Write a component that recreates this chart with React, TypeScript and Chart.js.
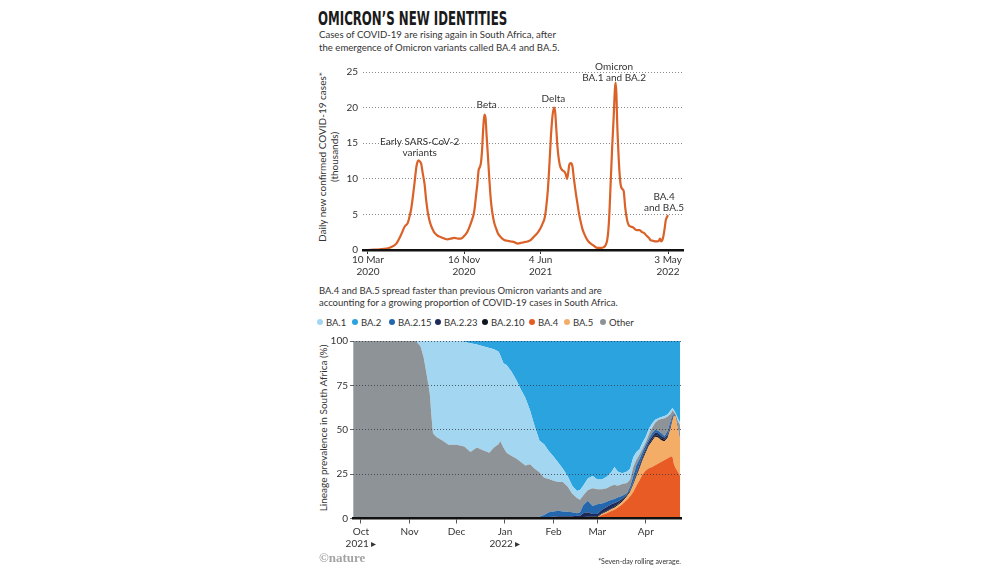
import React, { useEffect, useRef } from "react";
import { Chart, registerables } from "chart.js";

Chart.register(...registerables);

const FONT = "Lato, 'Noto Sans', sans-serif";
const TEXT = "#333333";

// ---------- Chart 1: daily new confirmed COVID-19 cases (thousands), x = days since 10 Mar 2020
const caseDays = [-9, 0, 20, 43, 60, 74, 87, 96, 104, 109, 113, 118, 122, 126, 129, 132, 136, 139, 143, 148, 152, 156, 160, 165, 170, 174, 182, 191, 200, 208, 216, 226, 235, 243, 250, 255, 260, 265, 269, 274, 278, 282, 286, 289, 292, 295, 298, 301, 304, 307, 310, 313, 317, 321, 325, 330, 335, 339, 347, 356, 365, 373, 382, 391, 400, 408, 417, 425, 434, 443, 451, 457, 462, 466, 470, 474, 478, 482, 486, 489, 492, 495, 499, 503, 508, 513, 517, 520, 523, 526, 530, 534, 538, 543, 547, 551, 556, 560, 564, 570, 576, 582, 590, 599, 608, 616, 621, 625, 628, 631, 634, 638, 642, 645, 647, 649, 651, 654, 657, 660, 664, 668, 672, 677, 681, 686, 692, 698, 703, 710, 716, 721, 728, 734, 738, 745, 750, 755, 760, 763, 766, 769, 772, 775, 778, 781, 784];
const caseValues = [0, 0, 0.05, 0.15, 0.4, 0.9, 2.2, 3.3, 3.8, 4.8, 5.8, 7.8, 9.6, 11.5, 12.3, 12.6, 12.4, 12.1, 10.8, 9.2, 7, 5.4, 4.3, 3.4, 2.8, 2.4, 2, 1.8, 1.6, 1.5, 1.6, 1.7, 1.6, 1.6, 1.9, 2.2, 2.6, 3.2, 3.8, 4.6, 5.6, 7.5, 9.4, 11.2, 11.6, 12.2, 14, 17, 19, 18.6, 16, 13.5, 10, 7, 5.2, 3.8, 3, 2.4, 1.8, 1.4, 1.3, 1.2, 1.1, 0.9, 1.0, 1.1, 1.2, 1.4, 1.9, 2.4, 3.1, 3.8, 4.6, 6.2, 8.5, 12, 16, 18.8, 20, 19.4, 17, 14.5, 12.6, 11.6, 11.2, 11, 10.6, 10, 10.8, 12, 12.2, 11.8, 10, 8, 6.6, 5.2, 3.9, 3, 2.4, 1.7, 1.2, 0.9, 0.6, 0.3, 0.3, 0.4, 0.7, 1.4, 2.8, 5.5, 9.4, 14.5, 18.8, 22.5, 23.5, 22, 18, 14, 11, 9.2, 8.6, 8.3, 6, 4.2, 3.5, 3.3, 3.2, 2.9, 2.8, 2.8, 2.5, 2.4, 2, 1.7, 1.4, 1.3, 1.2, 1.2, 1.3, 1.6, 1.2, 1.4, 2, 3, 4.2, 4.6, 4.9];
const caseTickDays = [0, 251, 451, 784];
const caseTickLabels = [["10 Mar", "2020"], ["16 Nov", "2020"], ["4 Jun", "2021"], ["3 May", "2022"]];
const caseYTicks = [0, 5, 10, 15, 20, 25];
const caseNoteLines = [["Early SARS-CoV-2", "variants"], ["Beta"], ["Delta"], ["Omicron", "BA.1 and BA.2"], ["BA.4", "and BA.5"]];
const caseNoteDays = [135, 310, 484.5, 643, 773.5];
const caseNoteValues = [15.2, 20.4, 21.3, 25.8, 7.45];

// ---------- Chart 2: lineage prevalence (%), x = days since 1 Oct 2021
const lineageDays = [-5, 0, 5, 10, 15, 20, 25, 30, 35, 38, 40, 42, 44, 45, 46, 48, 52, 56, 61, 64, 66, 70, 74, 78, 82, 85, 88, 89, 91, 93, 96, 99, 102, 105, 108, 111, 114, 117, 120, 123, 126, 129, 132, 135, 138, 140, 142, 145, 148, 151, 154, 157, 160, 162, 164, 167, 170, 172, 174, 176, 178, 180, 182, 184, 186, 188, 190, 192, 194, 196, 198, 199, 200, 201, 202, 203, 204];
const ba4 = [0, 0, 0, 0, 0, 0, 0, 0, 0, 0, 0, 0, 0, 0, 0, 0, 0, 0, 0, 0, 0, 0, 0, 0, 0, 0, 0, 0, 0, 0, 0, 0, 0, 0, 0, 0, 0, 0, 0, 0, 0, 0, 0, 0, 0, 0, 0, 0, 0,
  0.5, 2, 3, 4.2, 5, 6, 8, 10.5, 12.5, 15, 18.5, 21.5, 25, 27, 28.3, 29, 30, 31, 32, 33, 34, 35, 35, 30.5, 28.5, 27, 25.5, 24];
const ba5 = [0, 0, 0, 0, 0, 0, 0, 0, 0, 0, 0, 0, 0, 0, 0, 0, 0, 0, 0, 0, 0, 0, 0, 0, 0, 0, 0, 0, 0, 0, 0, 0, 0, 0, 0, 0, 0, 0, 0, 0, 0, 0, 0, 0, 0, 0, 0, 0, 0,
  0.2, 0.5, 0.8, 1, 1, 1.3, 1.5, 2, 2.5, 4, 5, 6.5, 8, 10, 12.7, 14.5, 16, 14.5, 12, 10.5, 11.5, 16, 20, 27.5, 29, 26, 23.5, 19.5];
const ba210 = [0, 0, 0, 0, 0, 0, 0, 0, 0, 0, 0, 0, 0, 0, 0, 0, 0, 0, 0, 0, 0, 0, 0, 0, 0, 0, 0, 0, 0, 0, 0, 0, 0, 0, 0,
  0, 0, 0.2, 0.3, 0.3, 0.3, 0.3, 0.3, 0.4, 0.5, 0.5, 0.8, 1, 1, 0.6, 0.5, 0.5, 0.5, 0.8, 0.7, 0.8, 0.7, 0.7, 0.8, 0.8, 1, 1, 1, 1, 1, 1, 1, 1, 1, 1, 1, 1, 0.3, 0.3, 0.5, 0.5, 0.5];
const ba223 = [0, 0, 0, 0, 0, 0, 0, 0, 0, 0, 0, 0, 0, 0, 0, 0, 0, 0, 0, 0, 0, 0, 0, 0, 0, 0, 0, 0, 0, 0, 0, 0, 0, 0, 0,
  0, 0, 0.3, 0.5, 0.7, 0.9, 0.9, 0.9, 0.9, 1, 1, 2.2, 2.5, 1.5, 1.2, 2, 2.2, 2.3, 2, 1.5, 1, 0.6, 0.6, 0.7, 1.2, 1.5, 1.5, 1.5, 1.5, 1.5, 1.5, 1.5, 1.5, 1, 1, 1, 1, 0.3, 0.2, 0.5, 0.5, 0.5];
const ba215 = [0, 0, 0, 0, 0, 0, 0, 0, 0, 0, 0, 0, 0, 0, 0, 0, 0, 0, 0, 0, 0, 0, 0, 0, 0, 0, 0, 0,
  0, 0, 0, 0, 0, 0, 0.3, 0.6, 1, 1.5, 2.7, 3, 3.1, 2.8, 2.6, 2.2, 1.5, 2, 4.5, 6.5, 4.5, 5.5, 3.5, 3, 2.5, 2.2, 2.3, 1.5, 0.5, 1.7, 3.5, 4.5, 3, 2.2, 2, 1.5, 2, 1.5, 1.5, 1.5, 1, 2, 2.5, 1, 0.4, 0.3, 0.5, 1, 1.5];
const other = [100, 100, 100, 100, 100, 100, 100, 100, 100, 97, 91, 81, 70, 58, 48, 46, 44, 41.5, 41.5, 41, 40.5, 37.5, 40, 38.5, 37, 40, 42, 43.7, 40, 37, 35.3, 34, 32, 29.8, 30.2,
  27.4, 25, 21, 18.7, 17.2, 16.2, 16.5, 14.2, 10.5, 8.5, 7, 5.5, 6, 10, 8.5, 8, 7.5, 8, 8, 6.7, 6.7, 5.7, 4, 5, 3, 2.5, 1.8, 1.5, 2.5, 3, 4, 6, 8, 10, 8, 3.5, 3, 1, 0.5, 1.5, 3, 6.5];
const ba1 = [0, 0, 0, 0, 0, 0, 0, 0, 0, 3, 9, 19, 30, 42, 52, 54, 56, 58.5, 58.5, 59, 59, 61.2, 58, 58.5, 59, 55.3, 52, 48.3, 47.5, 49.5, 47.7, 44.5, 41, 38.2, 30.5,
  24, 18, 18.8, 15.8, 13.8, 11, 7.5, 6, 4.5, 4, 5.5, 5.5, 6.5, 7, 5.5, 5.5, 6.5, 7.5, 10, 8, 6, 6.5, 6, 5.5, 4.5, 3, 3.5, 3, 3, 2.5, 1.7, 1, 1.2, 1.3, 1.2, 2, 1.3, 1, 0.7, 1.5, 1.5, 1.5];
const ba2 = [0, 0, 0, 0, 0, 0, 0, 0, 0, 0, 0, 0, 0, 0, 0, 0, 0, 0, 0, 0, 0.5, 1.3, 2, 3, 4, 4.7, 6, 8, 12.5, 13.5, 17, 21.5, 27, 32, 39,
  48, 56, 58.2, 62, 65, 68.5, 72, 76, 81.5, 84.5, 84, 81.5, 77.5, 76, 78, 78, 76.5, 74, 71, 73.5, 74.5, 73.5, 72, 65.5, 62.5, 61, 57, 54, 49.5, 46.5, 44.3, 43.5, 42.8, 42.2, 41.3, 39, 37.7, 39, 40.5, 42.5, 44.5, 46];

const lineageSeries = [
  { name: "BA.4", values: ba4, color: "#e85b24" },
  { name: "BA.5", values: ba5, color: "#f3ad66" },
  { name: "BA.2.10", values: ba210, color: "#0f1620" },
  { name: "BA.2.23", values: ba223, color: "#1d2b5c" },
  { name: "BA.2.15", values: ba215, color: "#2467ad" },
  { name: "Other", values: other, color: "#8e9398" },
  { name: "BA.1", values: ba1, color: "#a3d6f1" },
  { name: "BA.2", values: ba2, color: "#2ba3de" },
];
const legendOrder = ["BA.1", "BA.2", "BA.2.15", "BA.2.23", "BA.2.10", "BA.4", "BA.5", "Other"];
const legendX = [320, 355, 392, 438, 485, 532, 567, 603];
const lineageTickDays = [0, 31, 61, 92, 123, 151, 182];
const lineageTickLabels = [["Oct", "2021 \u25B8"], "Nov", "Dec", ["Jan", "2022 \u25B8"], "Feb", "Mar", "Apr"];
const lineageYTicks = [0, 25, 50, 75, 100];

function CasesChart() {
  const ref = useRef<HTMLCanvasElement>(null);
  useEffect(() => {
    const notes = {
      id: "notes",
      afterDatasetsDraw(chart: any) {
        const { ctx, scales } = chart;
        ctx.save();
        ctx.font = `10px ${FONT}`;
        ctx.fillStyle = TEXT;
        ctx.textAlign = "center";
        ctx.textBaseline = "middle";
        caseNoteLines.forEach((lines, i) => {
          const px = scales.x.getPixelForValue(caseNoteDays[i]);
          const py = scales.y.getPixelForValue(caseNoteValues[i]);
          lines.forEach((l, j) => ctx.fillText(l, px, py + j * 11));
        });
        ctx.restore();
      },
    };
    const chart = new Chart(ref.current!, {
      type: "line",
      data: {
        datasets: [
          {
            data: caseDays.map((d, i) => ({ x: d, y: caseValues[i] })),
            borderColor: "#da6128",
            borderWidth: 2.2,
            pointRadius: 0,
            cubicInterpolationMode: "monotone",
            fill: false,
          },
        ],
      },
      options: {
        animation: false,
        responsive: false,
        layout: { padding: { top: 12, right: 7, left: 0, bottom: 0 } },
        plugins: { legend: { display: false }, tooltip: { enabled: false } },
        scales: {
          x: {
            type: "linear",
            min: -13,
            max: 823,
            afterBuildTicks: (axis: any) => {
              axis.ticks = caseTickDays.map((v) => ({ value: v }));
            },
            afterFit: (axis: any) => {
              axis.height = 30;
            },
            ticks: {
              autoSkip: false,
              maxRotation: 0,
              padding: 0,
              color: TEXT,
              font: { family: FONT, size: 10 },
              callback: (_v: any, i: number) => caseTickLabels[i],
            },
            grid: { drawOnChartArea: false, drawTicks: true, tickLength: 4, tickColor: "#333", tickWidth: 1 },
            border: { display: true, color: "#111", width: 2.5, z: 2 },
          },
          y: {
            min: 0,
            max: 25,
            afterBuildTicks: (axis: any) => {
              axis.ticks = caseYTicks.map((v) => ({ value: v }));
            },
            afterFit: (axis: any) => {
              axis.width = 43;
            },
            ticks: { padding: 5, color: TEXT, font: { family: FONT, size: 10 } },
            grid: {
              drawTicks: false,
              color: (c: any) => (c.tick && c.tick.value === 0 ? "rgba(0,0,0,0)" : "#8a8a8a"),
              lineWidth: 1,
            },
            border: { display: false, dash: [1, 2] },
          },
        },
      },
      plugins: [notes],
    } as any);
    return () => chart.destroy();
  }, []);
  return (
    <canvas
      ref={ref}
      width={370}
      height={220}
      style={{ position: "absolute", left: 320, top: 60, width: 370, height: 220 }}
    />
  );
}

function LineageChart() {
  const ref = useRef<HTMLCanvasElement>(null);
  useEffect(() => {
    const chart = new Chart(ref.current!, {
      type: "line",
      data: {
        datasets: lineageSeries.map((s, k) => ({
          label: s.name,
          data: lineageDays.map((d, i) => ({ x: d, y: s.values[i] })),
          backgroundColor: s.color,
          borderColor: s.color,
          borderWidth: 0,
          pointRadius: 0,
          fill: k === 0 ? "origin" : "-1",
          tension: 0,
        })),
      },
      options: {
        animation: false,
        responsive: false,
        layout: { padding: { top: 11, right: 9, left: 0, bottom: 0 } },
        plugins: { legend: { display: false }, tooltip: { enabled: false } },
        scales: {
          x: {
            type: "linear",
            min: -5.1,
            max: 204.5,
            afterBuildTicks: (axis: any) => {
              axis.ticks = lineageTickDays.map((v) => ({ value: v }));
            },
            afterFit: (axis: any) => {
              axis.height = 36.5;
            },
            ticks: {
              autoSkip: false,
              maxRotation: 0,
              padding: 2,
              color: TEXT,
              font: { family: FONT, size: 10 },
              callback: (_v: any, i: number) => lineageTickLabels[i],
            },
            grid: { drawOnChartArea: false, drawTicks: true, tickLength: 5, tickColor: "#555", tickWidth: 1 },
            border: { display: true, color: "#111", width: 2.5, z: 2 },
          },
          y: {
            stacked: true,
            min: 0,
            max: 100,
            afterBuildTicks: (axis: any) => {
              axis.ticks = lineageYTicks.map((v) => ({ value: v }));
            },
            afterFit: (axis: any) => {
              axis.width = 43;
            },
            ticks: { padding: 2, color: TEXT, font: { family: FONT, size: 10 } },
            grid: {
              z: 1,
              drawTicks: true,
              tickLength: 3,
              tickColor: "#666",
              color: (c: any) => (c.tick && c.tick.value === 0 ? "rgba(0,0,0,0)" : "rgba(50,50,60,0.75)"),
              lineWidth: 1,
            },
            border: { display: false, dash: [1, 2] },
          },
        },
      },
    } as any);
    return () => chart.destroy();
  }, []);
  return (
    <canvas
      ref={ref}
      width={380}
      height={225}
      style={{ position: "absolute", left: 310, top: 330, width: 380, height: 225 }}
    />
  );
}

const abs = (s: React.CSSProperties): React.CSSProperties => ({ position: "absolute", ...s });

export default function App() {
  return (
    <div style={abs({ left: 0, top: 0, width: 1000, height: 575, background: "#fff", fontFamily: FONT, color: TEXT, overflow: "hidden" })}>
      <div style={abs({ left: 318, top: 6, whiteSpace: "nowrap" })}>
        <span
          style={{
            display: "inline-block",
            fontFamily: "'Liberation Sans Narrow', 'DejaVu Sans Condensed', sans-serif",
            fontWeight: 700,
            fontSize: 20,
            color: "#1a1a1a",
            transform: "scaleX(0.655)",
            transformOrigin: "left center",
            letterSpacing: 0,
          }}
        >
          OMICRON’S NEW IDENTITIES
        </span>
      </div>
      <div style={abs({ left: 319, top: 27.5, fontSize: 9.6, lineHeight: "13px", whiteSpace: "nowrap" })}>
        Cases of COVID-19 are rising again in South Africa, after
        <br />
        the emergence of Omicron variants called BA.4 and BA.5.
      </div>
      <div
        style={abs({
          left: 328 - 110,
          top: 157 - 12,
          width: 220,
          height: 24,
          fontSize: 10,
          lineHeight: "12px",
          textAlign: "center",
          whiteSpace: "nowrap",
          transform: "rotate(-90deg)",
        })}
      >
        Daily new confirmed COVID-19 cases*
        <br />
        (thousands)
      </div>
      <CasesChart />
      <div style={abs({ left: 319, top: 284.5, fontSize: 9.5, lineHeight: "12.5px", whiteSpace: "nowrap" })}>
        BA.4 and BA.5 spread faster than previous Omicron variants and are
        <br />
        accounting for a growing proportion of COVID-19 cases in South Africa.
      </div>
      {legendOrder.map((name, i) => {
        const s = lineageSeries.find((q) => q.name === name)!;
        return (
          <div key={name} style={abs({ left: legendX[i] - 3, top: 315, height: 14, display: "flex", alignItems: "center", whiteSpace: "nowrap", fontSize: 9.5 })}>
            <span style={{ display: "inline-block", width: 6, height: 6, borderRadius: 3, background: s.color, marginRight: 3 }} />
            {name}
          </div>
        );
      })}
      <div
        style={abs({
          left: 323 - 110,
          top: 428 - 6,
          width: 220,
          height: 12,
          fontSize: 10,
          lineHeight: "12px",
          textAlign: "center",
          whiteSpace: "nowrap",
          transform: "rotate(-90deg)",
        })}
      >
        Lineage prevalence in South Africa (%)
      </div>
      <LineageChart />
      <div style={abs({ left: 319, top: 550, fontFamily: "'Liberation Serif', 'DejaVu Serif', serif", fontWeight: 700, fontSize: 13, color: "#a3a3a3" })}>
        ©nature
      </div>
      <div style={abs({ left: 560, width: 121, top: 557, fontSize: 7, textAlign: "right", whiteSpace: "nowrap" })}>
        *Seven-day rolling average.
      </div>
    </div>
  );
}
